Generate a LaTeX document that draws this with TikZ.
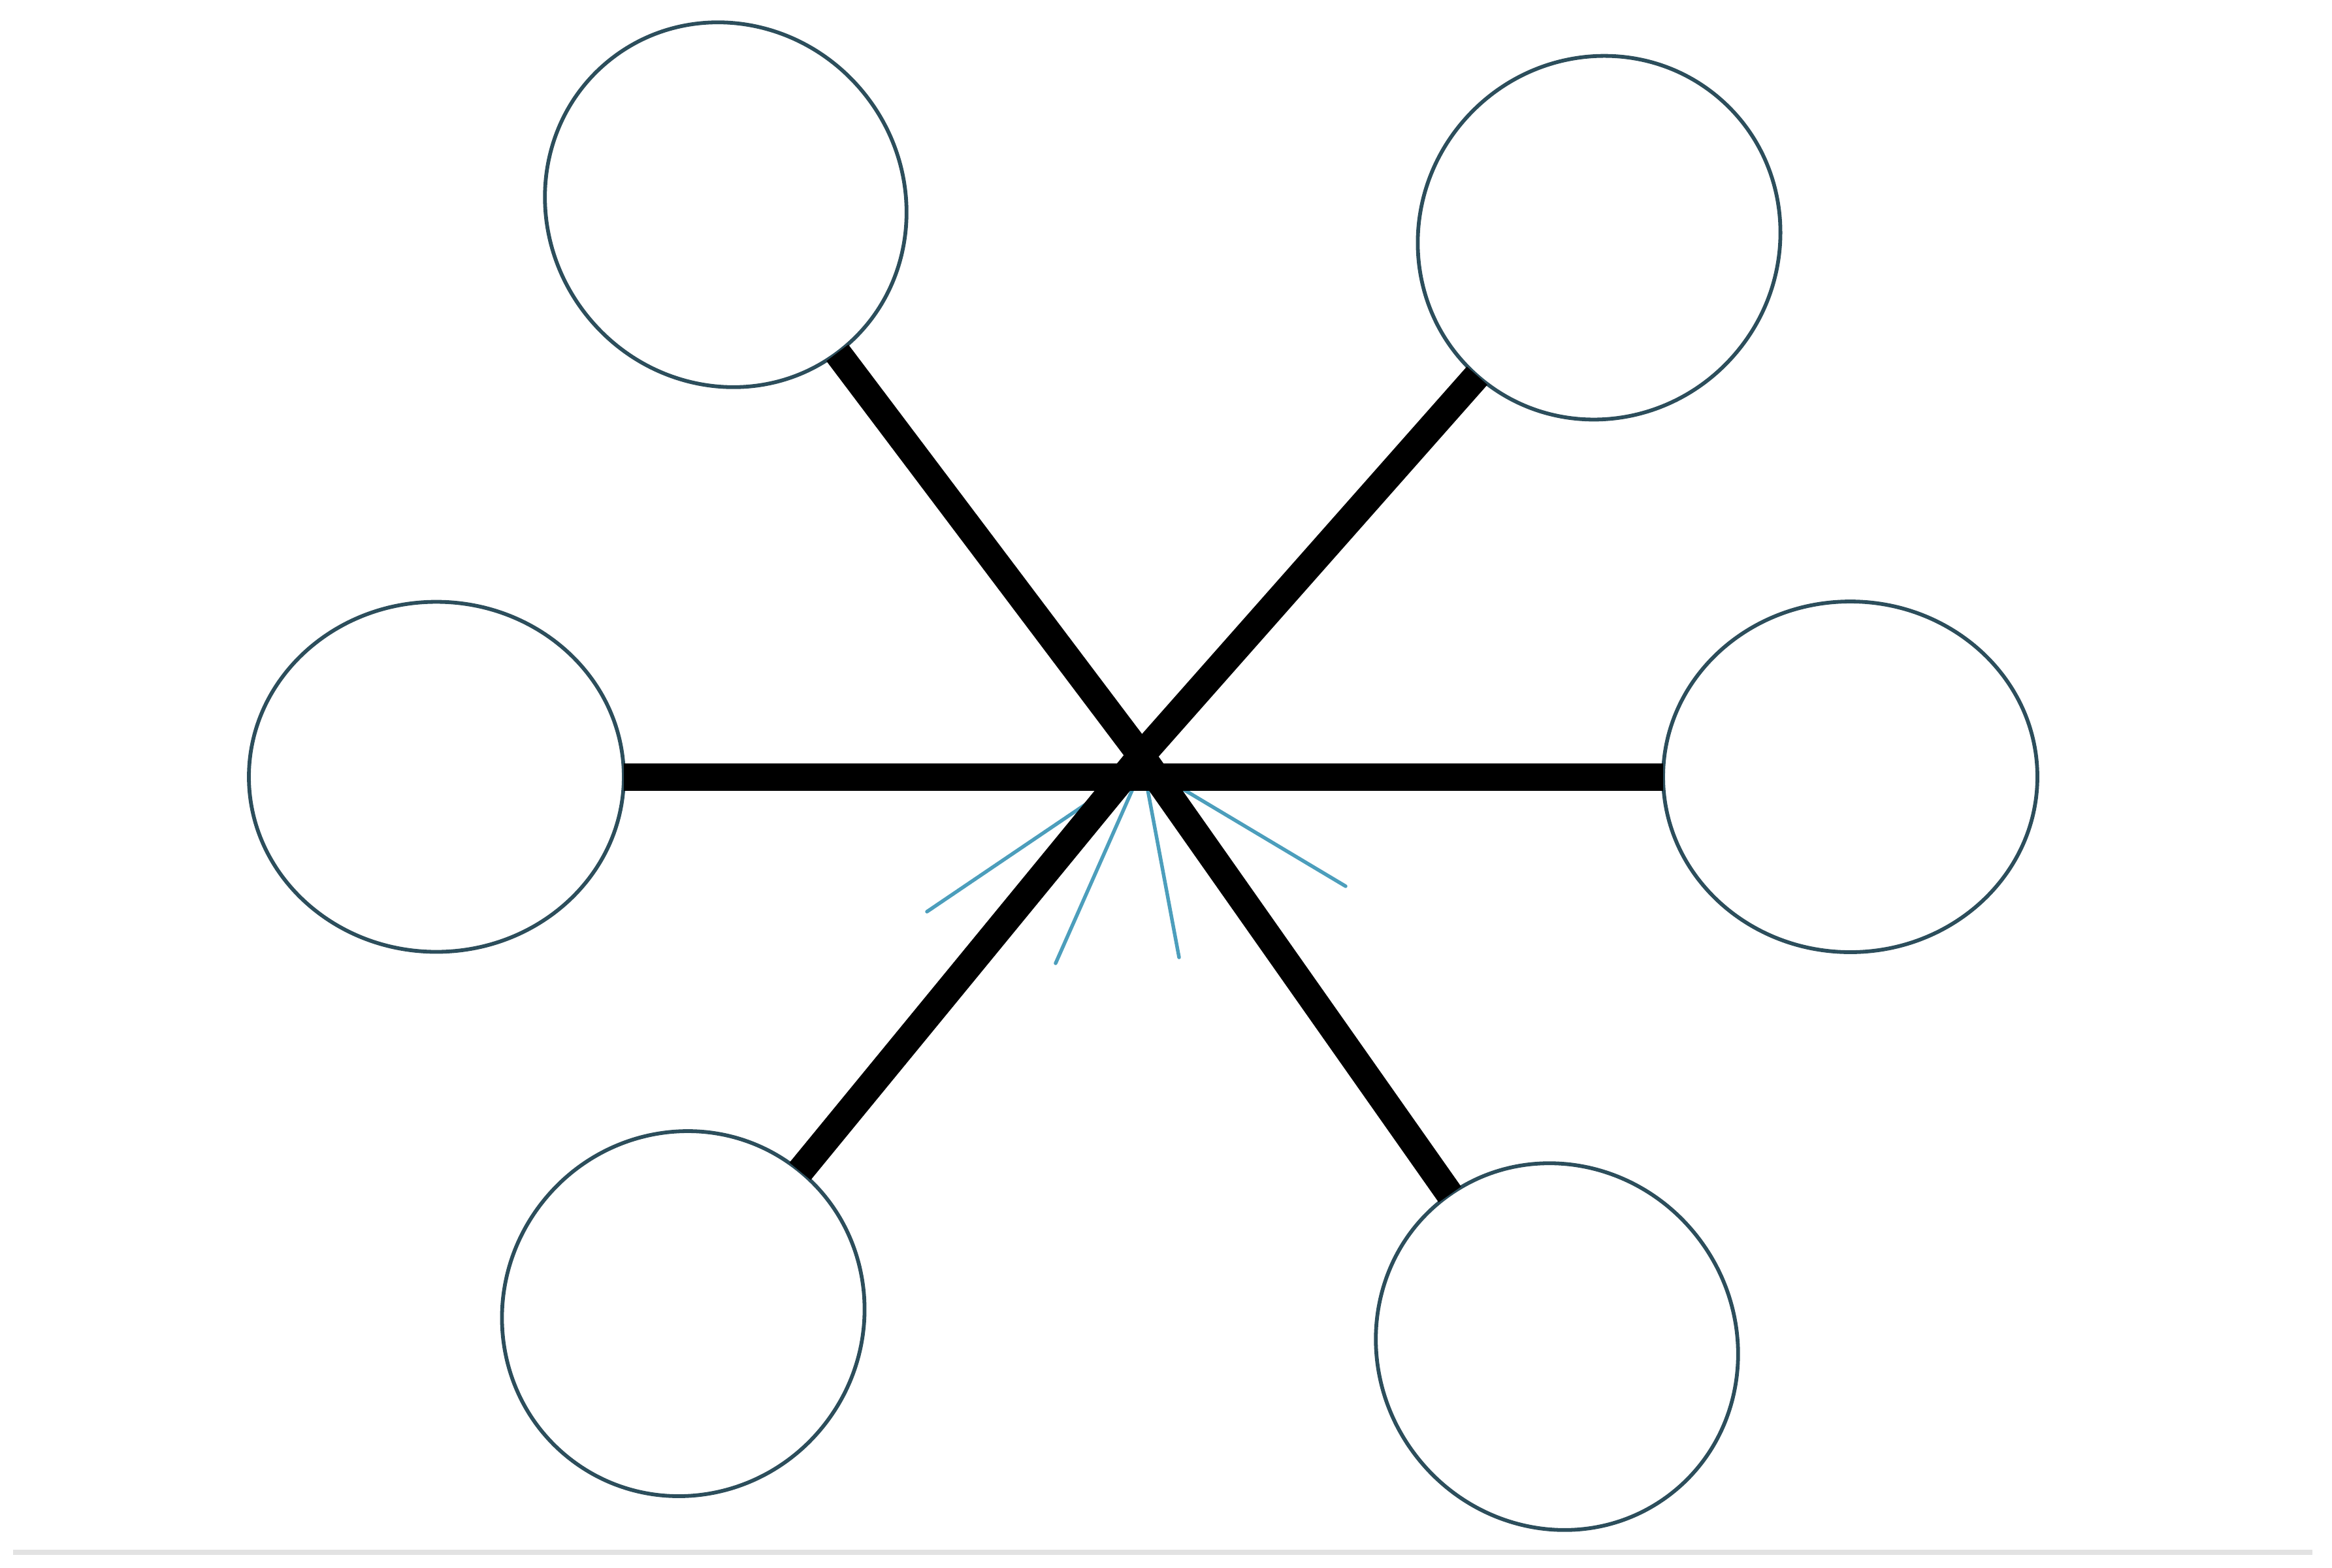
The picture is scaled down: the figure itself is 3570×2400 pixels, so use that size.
\documentclass[tikz,border=0pt]{standalone}
\usetikzlibrary{shapes.geometric}
\definecolor{ringcol}{RGB}{44,78,92}
\definecolor{raycol}{RGB}{76,158,188}
\definecolor{rulecol}{RGB}{226,226,226}
\begin{document}
\begin{tikzpicture}[x=0.1pt,y=-0.1pt,
  ring/.style={ellipse, draw=ringcol, line width=0.58pt, inner sep=0pt, outer sep=0pt},
  spoke/.style={line width=4.2pt, draw=black},
  ray/.style={line width=0.55pt, draw=raycol, line cap=round},
  baseline rule/.style={line width=0.75pt, draw=rulecol}]
\useasboundingbox (0,0) rectangle (3570,2400);
% rings
\node[ring, minimum width=56.8pt, minimum height=54.4pt, rotate=-51] (TL) at (1111,313.5) {};
\node[ring, minimum width=56.4pt, minimum height=54.8pt, rotate=48] (TR) at (2448,364) {};
\node[ring, minimum width=57.4pt, minimum height=53.6pt] (L) at (668,1189.5) {};
\node[ring, minimum width=57.3pt, minimum height=53.7pt] (R) at (2832.5,1189.5) {};
\node[ring, minimum width=56.4pt, minimum height=55.0pt, rotate=53] (BL) at (1046,2011.5) {};
\node[ring, minimum width=57.0pt, minimum height=54.6pt, rotate=-53.5] (BR) at (2383.5,2062) {};
% hub and ray ends
\coordinate (hub) at (1747,1157);
\coordinate (src) at (1750,1172);
\coordinate (b1) at (1419,1396);
\coordinate (b2) at (1616,1475);
\coordinate (b3) at (1805,1466);
\coordinate (b4) at (2060,1357);
% thin rays (under the spokes)
\draw[ray] (src) -- (b1);
\draw[ray] (src) -- (b2);
\draw[ray] (src) -- (b3);
\draw[ray] (src) -- (b4);
% spokes
\draw[spoke] (L) -- (R);
\draw[spoke] (TL) -- (hub) -- (BR);
\draw[spoke] (TR) -- (hub) -- (BL);
% bottom rule
\coordinate (ruleA) at (20,2377);
\coordinate (ruleB) at (3540,2377);
\draw[baseline rule] (ruleA) -- (ruleB);
\end{tikzpicture}
\end{document}
